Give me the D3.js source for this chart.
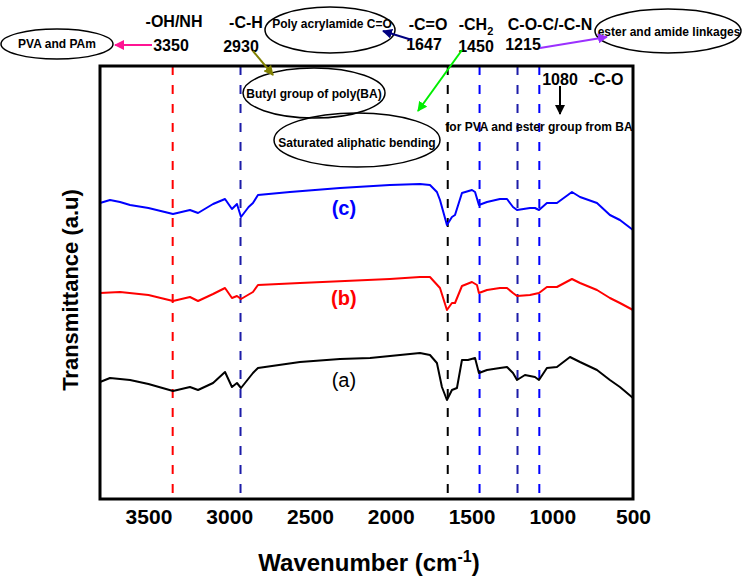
<!DOCTYPE html>
<html>
<head>
<meta charset="utf-8">
<script src="https://cdn.jsdelivr.net/npm/d3@7"></script>
<style>
  body { margin: 0; background: #fff; }
  text { font-family: Arial, "Liberation Sans", sans-serif; }
</style>
</head>
<body>
<svg id="chart"></svg>
<script>
// FTIR spectra, transmittance in arbitrary units (offset stacked)
const waveA = [3800, 3738, 3614, 3500, 3348, 3243, 3193, 3100, 3026, 2983, 2952, 2927, 2853, 2822, 2562, 2314, 2128, 1819, 1757, 1714, 1683, 1652, 1621, 1590, 1559, 1522, 1478, 1454, 1404, 1324, 1280, 1243, 1218, 1169, 1107, 1082, 1033, 971, 890, 828, 723, 643, 581, 500];
const specA = [117, 121, 119, 115, 108, 112, 109, 116, 127, 112, 116, 111, 126, 131, 137, 140, 141, 146, 144, 136, 112, 99, 109, 111, 139, 139, 141, 126, 129, 131, 132, 126, 119, 124, 122, 119, 131, 132, 142, 137, 129, 119, 112, 101];

const waveB = [3800, 3676, 3500, 3348, 3243, 3193, 3100, 3026, 2983, 2952, 2927, 2853, 2822, 2562, 2005, 1819, 1757, 1695, 1652, 1621, 1602, 1559, 1497, 1466, 1454, 1404, 1324, 1280, 1243, 1218, 1138, 1082, 1033, 971, 878, 828, 723, 643, 581, 500];
const specB = [206, 207, 204, 198, 202, 198, 205, 211, 201, 203, 200, 207, 214, 216, 220, 222, 222, 211, 189, 196, 196, 213, 217, 214, 206, 209, 211, 211, 206, 203, 204, 206, 212, 212, 220, 216, 209, 201, 196, 189];

const waveC = [3800, 3738, 3676, 3614, 3500, 3348, 3243, 3193, 3100, 3026, 2983, 2952, 2927, 2880, 2853, 2822, 2624, 2314, 2005, 1819, 1757, 1714, 1695, 1652, 1621, 1602, 1559, 1497, 1478, 1454, 1404, 1324, 1280, 1243, 1218, 1138, 1107, 1082, 1033, 971, 878, 828, 723, 643, 581, 500];
const specC = [296, 299, 297, 294, 291, 285, 289, 286, 295, 300, 290, 295, 282, 292, 296, 304, 307, 311, 314, 315, 314, 307, 299, 274, 282, 284, 306, 309, 307, 294, 297, 300, 300, 292, 289, 291, 291, 289, 296, 296, 307, 302, 296, 284, 279, 269];

const seriesNames = ["(a)", "(b)", "(c)"];
const seriesColors = ["#000000", "#ff0000", "#0000ff"];

const xTicks = [3500, 3000, 2500, 2000, 1500, 1000, 500];

// marked bands
const bandWaves = [3350, 2930, 1647, 1450, 1215, 1080];
const bandColors = ["#ff0000", "#1c1ca8", "#000000", "#0000ff", "#1c1ca8", "#0000ff"];

const width = 742, height = 577;
const margin = { top: 66, right: 109, bottom: 78, left: 100 };
const innerW = width - margin.left - margin.right;
const innerH = height - margin.top - margin.bottom;

const svg = d3.select("#chart").attr("width", width).attr("height", height);
svg.append("rect").attr("width", width).attr("height", height).attr("fill", "#fff");

const defs = svg.append("defs");
function marker(id, color) {
  defs.append("marker")
    .attr("id", id)
    .attr("viewBox", "0 0 10 10")
    .attr("refX", 9).attr("refY", 5)
    .attr("markerWidth", 5).attr("markerHeight", 5)
    .attr("orient", "auto")
    .append("path").attr("d", "M0,0 L10,5 L0,10 z").attr("fill", color);
}

const x = d3.scaleLinear().domain([3800, 500]).range([margin.left, margin.left + innerW]);
const y = d3.scaleLinear().domain([0, innerH]).range([margin.top + innerH, margin.top]);

// dashed band lines
svg.selectAll(".band")
  .data(bandWaves)
  .enter().append("line")
  .attr("class", "band")
  .attr("x1", d => x(d)).attr("x2", d => x(d))
  .attr("y1", margin.top).attr("y2", margin.top + innerH)
  .attr("stroke", (d, i) => bandColors[i])
  .attr("stroke-width", 2)
  .attr("stroke-dasharray", "9,10");

// spectra
const line = d3.line().x(d => x(d[0])).y(d => y(d[1]));
const spectra = [
  d3.zip(waveA, specA),
  d3.zip(waveB, specB),
  d3.zip(waveC, specC)
];
svg.selectAll(".spec")
  .data(spectra)
  .enter().append("path")
  .attr("class", "spec")
  .attr("d", line)
  .attr("fill", "none")
  .attr("stroke", (d, i) => seriesColors[i])
  .attr("stroke-width", 2)
  .attr("stroke-linejoin", "round");

// series labels
const labelPos = [[2290, 119], [2290, 201], [2290, 291]];
svg.selectAll(".slabel")
  .data(seriesNames)
  .enter().append("text")
  .attr("class", "slabel")
  .attr("x", (d, i) => x(labelPos[i][0]))
  .attr("y", (d, i) => y(labelPos[i][1]))
  .attr("dy", "0.35em")
  .attr("text-anchor", "middle")
  .attr("font-size", 20)
  .attr("font-weight", (d, i) => i === 0 ? "normal" : "bold")
  .attr("fill", (d, i) => seriesColors[i])
  .text(d => d);

// frame
svg.append("rect")
  .attr("x", margin.left).attr("y", margin.top)
  .attr("width", innerW).attr("height", innerH)
  .attr("fill", "none").attr("stroke", "#000").attr("stroke-width", 3);

// x axis
const xAxis = svg.append("g")
  .attr("transform", `translate(0,${margin.top + innerH})`)
  .call(d3.axisBottom(x).tickValues(xTicks).tickSize(0).tickFormat(d3.format("d")));
xAxis.select(".domain").remove();
xAxis.selectAll("text")
  .attr("y", 10)
  .attr("font-size", 21)
  .attr("font-weight", "bold")
  .attr("font-family", "Arial, 'Liberation Sans', sans-serif")
  .attr("fill", "#000");

// axis titles
const xTitle = svg.append("text")
  .attr("x", 369).attr("y", 571)
  .attr("text-anchor", "middle")
  .attr("font-size", 24).attr("font-weight", "bold");
xTitle.append("tspan").text("Wavenumber (cm");
xTitle.append("tspan").attr("dy", -9).attr("font-size", 16).text("-1");
xTitle.append("tspan").attr("dy", 9).text(")");

svg.append("text")
  .attr("transform", "translate(78,290) rotate(-90)")
  .attr("text-anchor", "middle")
  .attr("font-size", 22).attr("font-weight", "bold")
  .text("Transmittance (a.u)");

// annotations above the plot
const ann = svg.append("g").attr("font-weight", "bold");
function bold(txt, cx, cy, size) {
  return ann.append("text").attr("x", cx).attr("y", cy).attr("dy", "0.35em")
    .attr("text-anchor", "middle").attr("font-size", size).text(txt);
}
function ellipse(cx, cy, rx, ry) {
  ann.append("ellipse").attr("cx", cx).attr("cy", cy).attr("rx", rx).attr("ry", ry)
    .attr("fill", "none").attr("stroke", "#000").attr("stroke-width", 1.5);
}
function arrow(x1, y1, x2, y2, color, id) {
  marker(id, color);
  ann.append("line").attr("x1", x1).attr("y1", y1).attr("x2", x2).attr("y2", y2)
    .attr("stroke", color).attr("stroke-width", 2).attr("marker-end", `url(#${id})`);
}

bold("-OH/NH", 174, 21, 16);
bold("3350", 171, 45, 16);
bold("-C-H", 246, 22, 16);
bold("2930", 241, 46, 16);
bold("-C=O", 428, 24, 16);
bold("1647", 424, 44, 16);
const ch2 = bold("-CH", 476, 24, 16);
ch2.append("tspan").attr("dy", 5).attr("font-size", 11).text("2");
bold("1450", 476, 46, 16);
bold("C-O-C/-C-N", 550, 24, 16);
bold("1215", 523, 44, 16);
bold("1080", 560, 79, 16);
bold("-C-O", 606, 79, 16);

ellipse(57, 44, 56, 15);
bold("PVA and PAm", 57, 44, 12);
ellipse(330, 30, 65, 23);
bold("Poly acrylamide C=O", 332, 24, 12);
ellipse(668, 31, 73, 22);
bold("ester and amide linkages", 669, 32, 12);
ellipse(314, 93, 71, 25);
bold("Butyl group of poly(BA)", 314, 94, 12);
ellipse(357, 140, 83, 27);
bold("Saturated aliphatic bending", 357, 143, 12);
bold("for PVA and ester group from BA", 539, 127, 12);

arrow(152, 45, 115, 45, "#ff1493", "mPink");
arrow(253, 51, 273, 75, "#808000", "mOlive");
arrow(412, 40, 383, 31, "#000080", "mNavy");
arrow(462, 50, 418, 111, "#00ee00", "mGreen");
arrow(540, 48, 607, 37, "#9b30ff", "mPurple");
arrow(560, 86, 560, 114, "#000000", "mBlack");
</script>
</body>
</html>
